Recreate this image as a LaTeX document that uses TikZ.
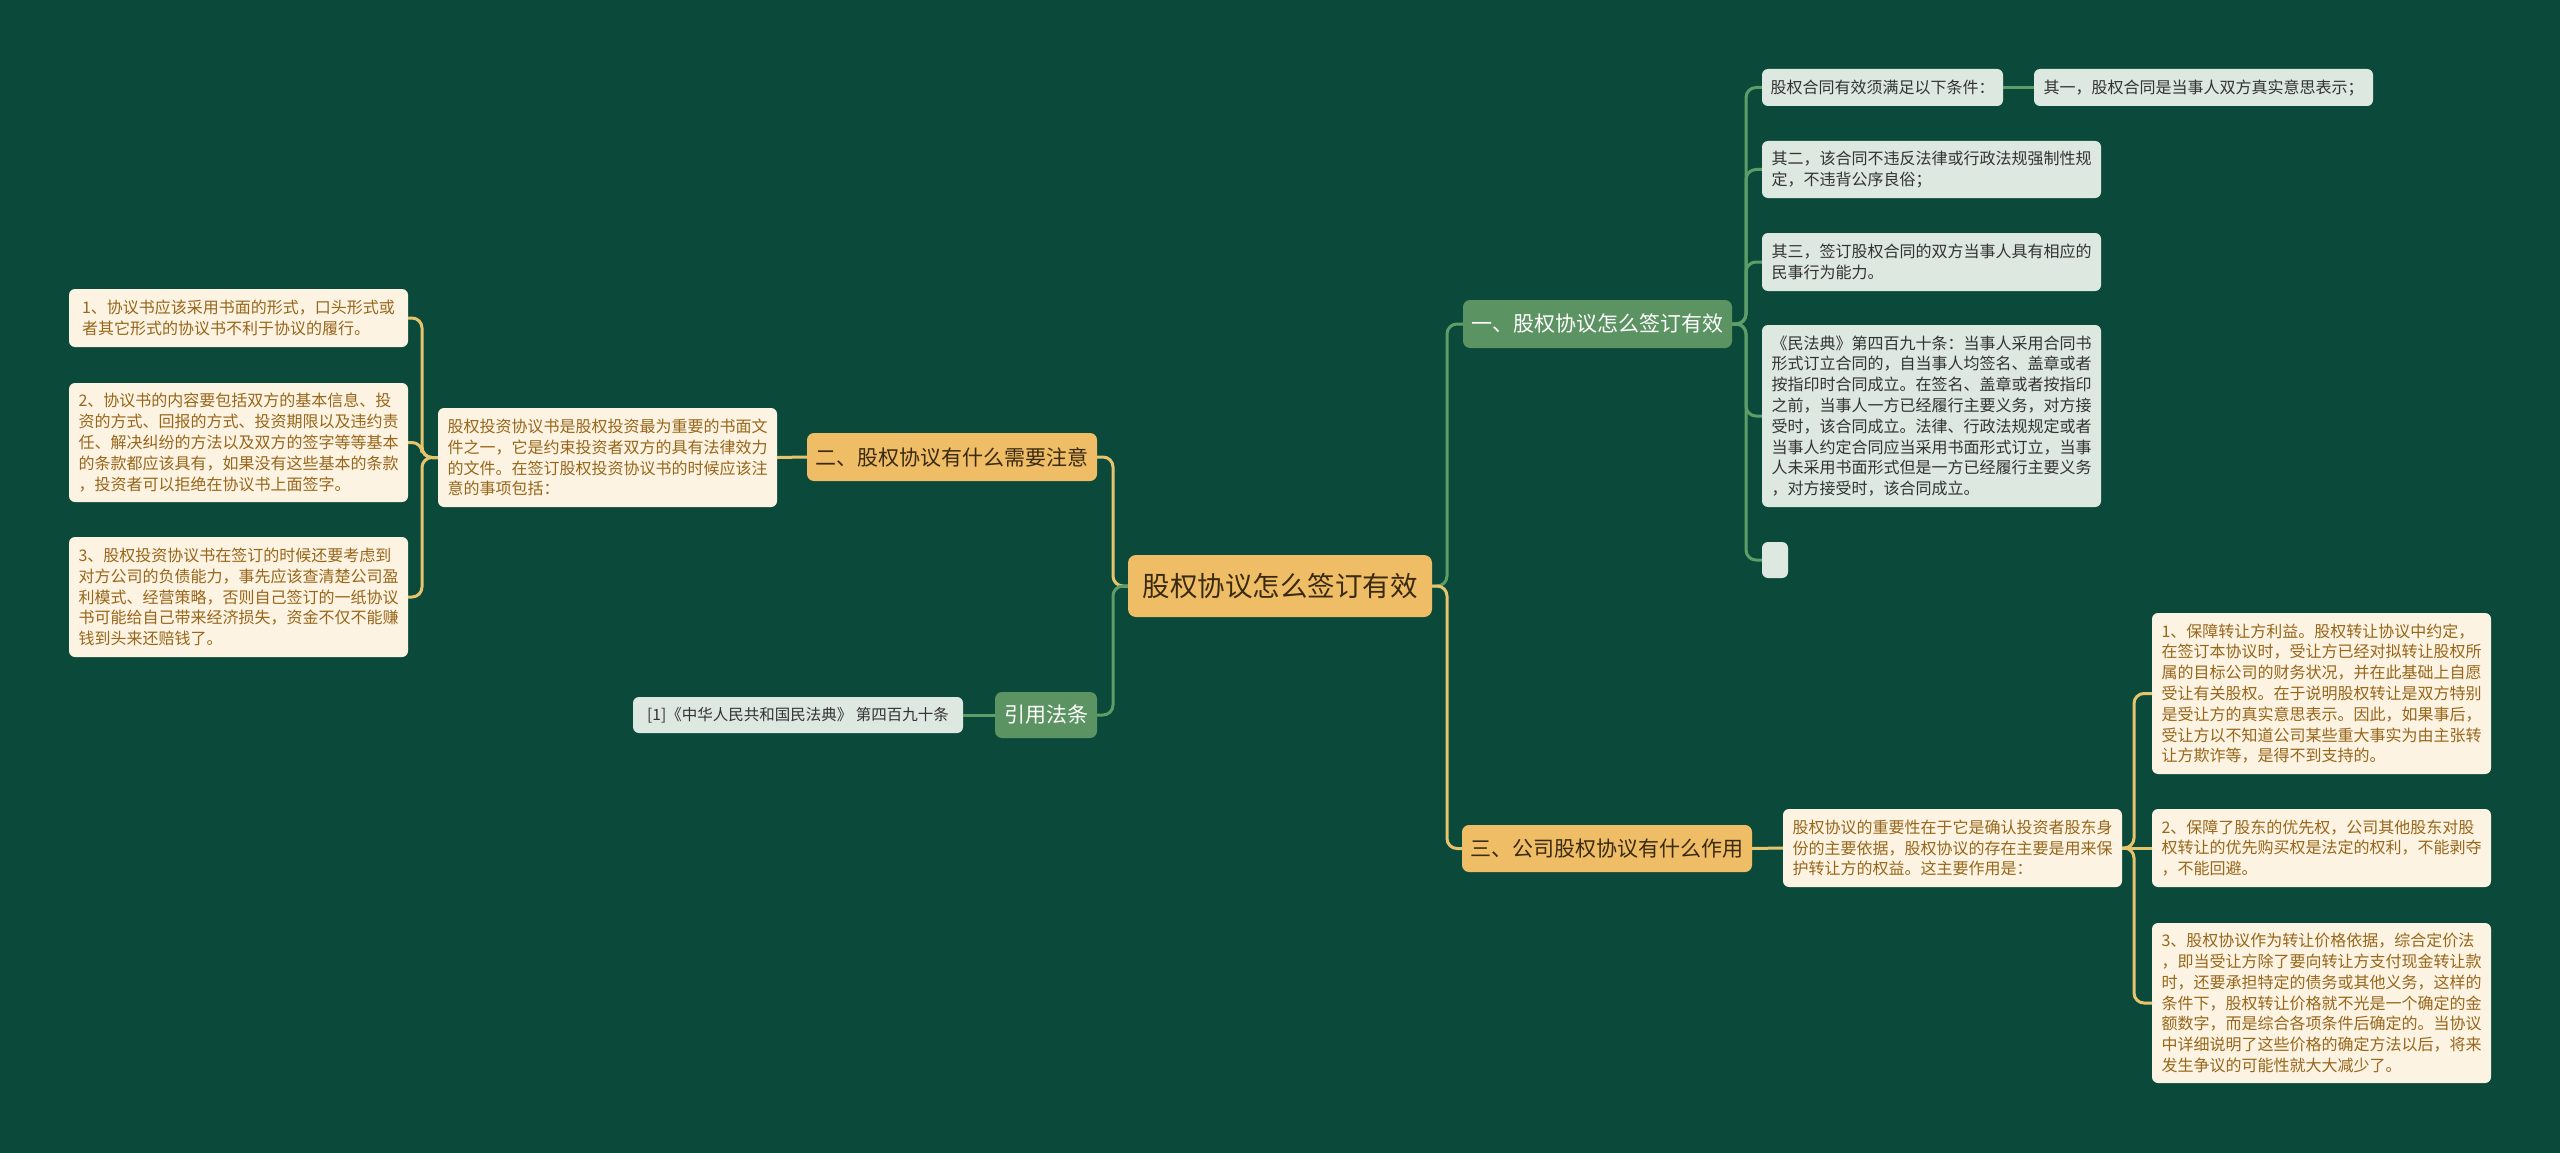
\documentclass[tikz,border=0pt]{standalone}
\usepackage{fontspec}
\newfontfamily\cjk{Noto Sans CJK SC}
\definecolor{cBg}{HTML}{0B4A3A}
\definecolor{cGreenBox}{HTML}{5C9362}
\definecolor{cOrangeBox}{HTML}{EFBD66}
\definecolor{cOrangeText}{HTML}{3A2A10}
\definecolor{cLightBox}{HTML}{DCE8E0}
\definecolor{cLightText}{HTML}{333333}
\definecolor{cCreamBox}{HTML}{FDF3E2}
\definecolor{cCreamText}{HTML}{97661A}
\definecolor{cGreenLine}{HTML}{5E9C68}
\definecolor{cYellowLine}{HTML}{E6C46E}
\tikzset{
  smallbox/.style={rounded corners=6pt, inner sep=0pt, align=left, font=\cjk\fontsize{16}{20.8}\selectfont},
  lightbox/.style={smallbox, fill=cLightBox, text=cLightText},
  creambox/.style={smallbox, fill=cCreamBox, text=cCreamText},
  bigbox/.style={rounded corners=7pt, inner sep=0pt, font=\cjk\fontsize{21}{25}\selectfont},
  greenbranch/.style={bigbox, fill=cGreenBox, text=white},
  orangebranch/.style={bigbox, fill=cOrangeBox, text=cOrangeText},
  rootbox/.style={rounded corners=8pt, inner sep=0pt, fill=cOrangeBox, text=cOrangeText, font=\cjk\fontsize{27.5}{32}\selectfont},
  gconn/.style={draw=cGreenLine, line width=3pt, rounded corners=10pt},
  yconn/.style={draw=cYellowLine, line width=3pt, rounded corners=10pt},
}
\begin{document}
\begin{tikzpicture}[x=1pt,y=-1pt]
\fill[cBg] (0,0) rectangle (2560,1153);
\useasboundingbox (0,0) rectangle (2560,1153);

% spine coordinates
\coordinate (spR) at (1447,0);
\coordinate (spL) at (1113,0);
\coordinate (sp1) at (1746,0);
\coordinate (sp2) at (422,0);
\coordinate (sp3) at (2134,0);

% root
\node[rootbox, minimum width=304pt, minimum height=62pt] (root) at (1280,586) {股权协议怎么签订有效};

% branches
\node[greenbranch, minimum width=269pt, minimum height=48pt] (b1) at (1597.5,324) {一、股权协议怎么签订有效};
\node[orangebranch, minimum width=290pt, minimum height=48pt] (b2) at (952,457) {二、股权协议有什么需要注意};
\node[greenbranch, minimum width=102pt, minimum height=46pt] (cite) at (1046,715) {引用法条};
\node[orangebranch, minimum width=290pt, minimum height=47pt] (b3) at (1607,848.5) {三、公司股权协议有什么作用};

% branch 1 children
\node[lightbox, minimum width=241pt, minimum height=37pt] (c1) at (1882.5,87.5) {股权合同有效须满足以下条件：};
\node[lightbox, minimum width=339pt, minimum height=37pt] (c1a) at (2203.5,87.5) {其一，股权合同是当事人双方真实意思表示；};
\node[lightbox, minimum width=339pt, minimum height=57pt] (c2) at (1931.5,169.5) {其二，该合同不违反法律或行政法规强制性规\\定，不违背公序良俗；};
\node[lightbox, minimum width=339pt, minimum height=58pt] (c3) at (1931.5,262) {其三，签订股权合同的双方当事人具有相应的\\民事行为能力。};
\node[lightbox, minimum width=339pt, minimum height=182pt] (c4) at (1931.5,416) {《民法典》第四百九十条：当事人采用合同书\\形式订立合同的，自当事人均签名、盖章或者\\按指印时合同成立。在签名、盖章或者按指印\\之前，当事人一方已经履行主要义务，对方接\\受时，该合同成立。法律、行政法规规定或者\\当事人约定合同应当采用书面形式订立，当事\\人未采用书面形式但是一方已经履行主要义务\\，对方接受时，该合同成立。};
\node[lightbox, minimum width=26pt, minimum height=36pt] (c5) at (1775,560) {};

% branch 2 children
\node[creambox, minimum width=339pt, minimum height=99pt] (b2c) at (607.5,457.5) {股权投资协议书是股权投资最为重要的书面文\\件之一，它是约束投资者双方的具有法律效力\\的文件。在签订股权投资协议书的时候应该注\\意的事项包括：};
\node[creambox, minimum width=339pt, minimum height=58pt] (g1) at (238.5,318) {1、协议书应该采用书面的形式，口头形式或\\者其它形式的协议书不利于协议的履行。};
\node[creambox, minimum width=339pt, minimum height=119pt] (g2) at (238.5,442.5) {2、协议书的内容要包括双方的基本信息、投\\资的方式、回报的方式、投资期限以及违约责\\任、解决纠纷的方法以及双方的签字等等基本\\的条款都应该具有，如果没有这些基本的条款\\，投资者可以拒绝在协议书上面签字。};
\node[creambox, minimum width=339pt, minimum height=120pt] (g3) at (238.5,597) {3、股权投资协议书在签订的时候还要考虑到\\对方公司的负债能力，事先应该查清楚公司盈\\利模式、经营策略，否则自己签订的一纸协议\\书可能给自己带来经济损失，资金不仅不能赚\\钱到头来还赔钱了。};

% citation child
\node[lightbox, minimum width=330pt, minimum height=36pt, font=\cjk\fontsize{15.5}{20}\selectfont] (citec) at (798,715) {[1]《中华人民共和国民法典》 第四百九十条};

% branch 3 children
\node[creambox, minimum width=339pt, minimum height=78pt] (b3c) at (1952.5,848) {股权协议的重要性在于它是确认投资者股东身\\份的主要依据，股权协议的存在主要是用来保\\护转让方的权益。这主要作用是：};
\node[creambox, minimum width=339pt, minimum height=161pt] (r1) at (2321.5,693.5) {1、保障转让方利益。股权转让协议中约定，\\在签订本协议时，受让方已经对拟转让股权所\\属的目标公司的财务状况，并在此基础上自愿\\受让有关股权。在于说明股权转让是双方特别\\是受让方的真实意思表示。因此，如果事后，\\受让方以不知道公司某些重大事实为由主张转\\让方欺诈等，是得不到支持的。};
\node[creambox, minimum width=339pt, minimum height=78pt] (r2) at (2321.5,848) {2、保障了股东的优先权，公司其他股东对股\\权转让的优先购买权是法定的权利，不能剥夺\\，不能回避。};
\node[creambox, minimum width=339pt, minimum height=160pt] (r3) at (2321.5,1003) {3、股权协议作为转让价格依据，综合定价法\\，即当受让方除了要向转让方支付现金转让款\\时，还要承担特定的债务或其他义务，这样的\\条件下，股权转让价格就不光是一个确定的金\\额数字，而是综合各项条件后确定的。当协议\\中详细说明了这些价格的确定方法以后，将来\\发生争议的可能性就大大减少了。};

% connectors from root
\begin{scope}[on background layer/.try]
\end{scope}
\draw[gconn] (root.east) -- (root.east -| spR) |- (b1.west);
\draw[yconn] (root.east) -- (root.east -| spR) |- (b3.west);
\draw[yconn] (root.west) -- (root.west -| spL) |- (b2.east);
\draw[gconn] (root.west) -- (root.west -| spL) |- (cite.east);

% branch 1
\foreach \c in {c1,c2,c3,c4,c5}{
  \draw[gconn] (b1.east) -- (b1.east -| sp1) |- (\c.west);
}
\draw[gconn] (c1.east) -- (c1a.west);

% branch 2
\draw[yconn] (b2.west) -- (b2c.east);
\foreach \g in {g1,g2,g3}{
  \draw[yconn] (b2c.west) -- (b2c.west -| sp2) |- (\g.east);
}

% citation
\draw[gconn] (cite.west) -- (citec.east);

% branch 3
\draw[yconn] (b3.east) -- (b3c.west);
\foreach \r in {r1,r3}{
  \draw[yconn] (b3c.east) -- (b3c.east -| sp3) |- (\r.west);
}
\draw[yconn] (b3c.east) -- (r2.west);
\end{tikzpicture}
\end{document}
